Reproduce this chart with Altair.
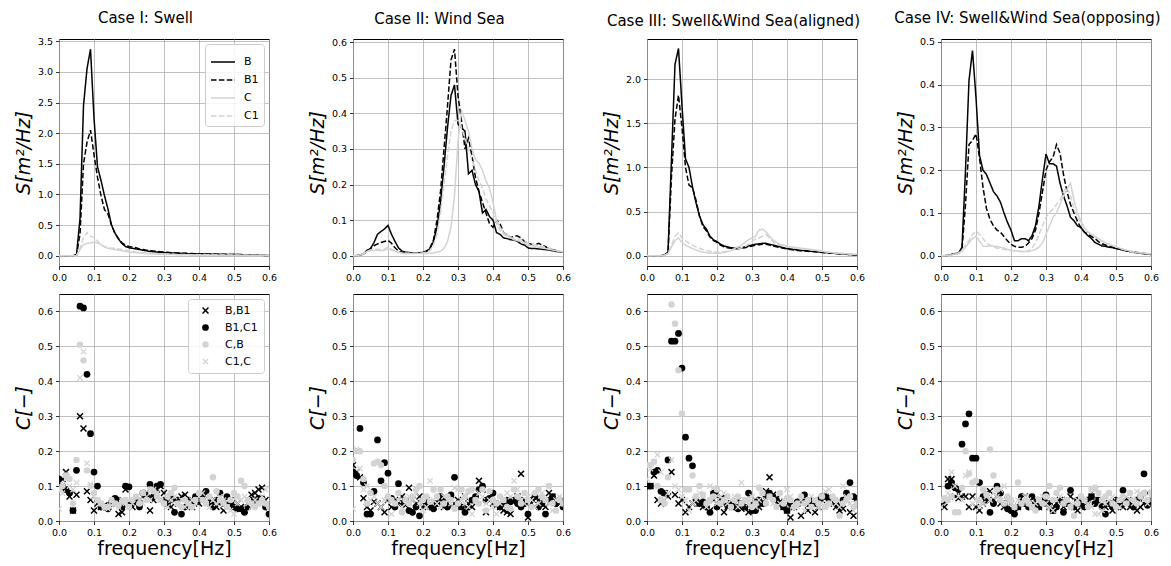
import altair as alt
import pandas as pd

# ---------------- data ----------------
FREQ = [0.00, 0.01, 0.02, 0.03, 0.04, 0.05, 0.06, 0.07, 0.08, 0.09,
        0.10, 0.11, 0.12, 0.13, 0.14, 0.15, 0.16, 0.17, 0.18, 0.19,
        0.20, 0.21, 0.22, 0.23, 0.24, 0.25, 0.26, 0.27, 0.28, 0.29,
        0.30, 0.31, 0.32, 0.33, 0.34, 0.35, 0.36, 0.37, 0.38, 0.39,
        0.40, 0.41, 0.42, 0.43, 0.44, 0.45, 0.46, 0.47, 0.48, 0.49,
        0.50, 0.51, 0.52, 0.53, 0.54, 0.55, 0.56, 0.57, 0.58, 0.59,
        0.60]

CASE_TITLES = ["Case I: Swell", "Case II: Wind Sea",
               "Case III: Swell&Wind Sea(aligned)", "Case IV: Swell&Wind Sea(opposing)"]
SPEC_SERIES = ["B", "B1", "C", "C1"]
COH_SERIES = ["B,B1", "B1,C1", "C,B", "C1,C"]
X_TICKS = [0.0, 0.1, 0.2, 0.3, 0.4, 0.5, 0.6]
SPEC_TICKS = [[0.0, 0.5, 1.0, 1.5, 2.0, 2.5, 3.0, 3.5],
              [0.0, 0.1, 0.2, 0.3, 0.4, 0.5, 0.6],
              [0.0, 0.5, 1.0, 1.5, 2.0],
              [0.0, 0.1, 0.2, 0.3, 0.4, 0.5]]
SPEC_DOMAINS = [[-0.168, 3.537], [-0.029, 0.609], [-0.117, 2.457], [-0.024, 0.507]]
COH_TICKS = [0.0, 0.1, 0.2, 0.3, 0.4, 0.5, 0.6]
COH_DOMAIN = [0.0, 0.65]

# Case I spectra
S1_B = [0, 0, 0, 0, 0, 0.02, 0.6, 2.45, 3.05, 3.37,
        2.25, 1.45, 1.23, 0.98, 0.76, 0.5, 0.37, 0.27, 0.2, 0.15,
        0.13, 0.12, 0.11, 0.1, 0.09, 0.08, 0.07, 0.065, 0.06, 0.055,
        0.05, 0.048, 0.045, 0.042, 0.04, 0.038, 0.035, 0.033, 0.03, 0.03,
        0.028, 0.027, 0.026, 0.025, 0.024, 0.023, 0.022, 0.021, 0.02, 0.02,
        0.02, 0.019, 0.018, 0.016, 0.014, 0.012, 0.01, 0.008, 0.006, 0.005,
        0.004]
S1_B1 = [0, 0, 0, 0, 0, 0.01, 0.35, 1.5, 1.85, 2.05,
         1.65, 1.28, 0.98, 0.75, 0.68, 0.5, 0.36, 0.28, 0.21, 0.17,
         0.15, 0.14, 0.13, 0.11, 0.1, 0.09, 0.08, 0.075, 0.07, 0.065,
         0.06, 0.055, 0.05, 0.048, 0.045, 0.042, 0.04, 0.038, 0.035, 0.033,
         0.03, 0.029, 0.028, 0.027, 0.026, 0.025, 0.024, 0.023, 0.022, 0.021,
         0.02, 0.019, 0.017, 0.015, 0.013, 0.011, 0.009, 0.008, 0.006, 0.005,
         0.004]
S1_C = [0, 0, 0, 0, 0, 0.0, 0.1, 0.18, 0.2, 0.21,
        0.22, 0.21, 0.18, 0.14, 0.12, 0.11, 0.1, 0.09, 0.08, 0.07,
        0.06, 0.055, 0.05, 0.045, 0.04, 0.035, 0.03, 0.028, 0.026, 0.024,
        0.022, 0.02, 0.019, 0.018, 0.017, 0.016, 0.015, 0.014, 0.013, 0.012,
        0.012, 0.011, 0.011, 0.01, 0.01, 0.01, 0.009, 0.009, 0.008, 0.008,
        0.008, 0.007, 0.007, 0.006, 0.006, 0.005, 0.005, 0.004, 0.004, 0.003,
        0.003]
S1_C1 = [0, 0, 0, 0, 0, 0.0, 0.12, 0.3, 0.38, 0.32,
         0.3, 0.24, 0.18, 0.15, 0.13, 0.12, 0.12, 0.11, 0.1, 0.09,
         0.08, 0.07, 0.06, 0.055, 0.05, 0.045, 0.04, 0.037, 0.034, 0.031,
         0.028, 0.026, 0.024, 0.022, 0.021, 0.02, 0.019, 0.018, 0.017, 0.016,
         0.015, 0.015, 0.014, 0.014, 0.013, 0.013, 0.012, 0.012, 0.011, 0.011,
         0.01, 0.01, 0.009, 0.009, 0.008, 0.008, 0.007, 0.007, 0.006, 0.006,
         0.005]

# Case II spectra
S2_B = [0, 0, 0.002, 0.005, 0.015, 0.02, 0.037, 0.06, 0.068, 0.075,
        0.085, 0.06, 0.04, 0.022, 0.013, 0.01, 0.009, 0.008, 0.008, 0.008,
        0.009, 0.012, 0.02, 0.04, 0.08, 0.15, 0.25, 0.36, 0.45, 0.48,
        0.37, 0.36, 0.35, 0.23, 0.24, 0.2, 0.18, 0.12, 0.13, 0.11,
        0.1, 0.065, 0.06, 0.05, 0.048, 0.045, 0.044, 0.04, 0.033, 0.03,
        0.022, 0.02, 0.02, 0.019, 0.018, 0.017, 0.016, 0.014, 0.012, 0.011,
        0.01]
S2_B1 = [0, 0, 0.002, 0.005, 0.012, 0.02, 0.028, 0.033, 0.037, 0.04,
         0.043, 0.035, 0.022, 0.013, 0.01, 0.009, 0.008, 0.008, 0.008, 0.008,
         0.01, 0.013, 0.022, 0.045, 0.1, 0.18, 0.3, 0.42, 0.55, 0.58,
         0.45, 0.38, 0.3, 0.33, 0.28, 0.22, 0.18, 0.15, 0.12, 0.09,
         0.08, 0.1, 0.09, 0.065, 0.06, 0.05, 0.055, 0.055, 0.05, 0.04,
         0.035, 0.032, 0.03, 0.035, 0.03, 0.025, 0.02, 0.017, 0.015, 0.012,
         0.01]
S2_C = [0, 0, 0.002, 0.005, 0.012, 0.014, 0.015, 0.015, 0.014, 0.015,
        0.02, 0.016, 0.012, 0.009, 0.007, 0.006, 0.006, 0.006, 0.006, 0.006,
        0.006, 0.006, 0.007, 0.008, 0.01, 0.013, 0.02, 0.04, 0.08, 0.17,
        0.32, 0.41, 0.38, 0.35, 0.3, 0.27, 0.26, 0.24, 0.21, 0.19,
        0.15, 0.1, 0.08, 0.065, 0.06, 0.05, 0.045, 0.042, 0.04, 0.035,
        0.03, 0.028, 0.026, 0.024, 0.022, 0.02, 0.018, 0.016, 0.014, 0.012,
        0.01]
S2_C1 = [0, 0, 0.002, 0.006, 0.013, 0.016, 0.018, 0.018, 0.017, 0.018,
         0.025, 0.018, 0.013, 0.01, 0.008, 0.007, 0.007, 0.007, 0.007, 0.007,
         0.008, 0.01, 0.015, 0.03, 0.06, 0.12, 0.2, 0.28, 0.35, 0.38,
         0.38, 0.36, 0.33, 0.3, 0.27, 0.24, 0.21, 0.19, 0.16, 0.14,
         0.12, 0.09, 0.07, 0.06, 0.055, 0.05, 0.05, 0.048, 0.045, 0.04,
         0.035, 0.032, 0.03, 0.028, 0.026, 0.024, 0.02, 0.018, 0.015, 0.013,
         0.011]

# Case III spectra
S3_B = [0, 0, 0, 0, 0, 0.01, 0.04, 1.1, 2.17, 2.35,
        1.7, 1.1, 1.0, 0.78, 0.6, 0.45, 0.35, 0.3, 0.22, 0.18,
        0.16, 0.13, 0.11, 0.1, 0.09, 0.085, 0.085, 0.09, 0.1, 0.11,
        0.12, 0.13, 0.135, 0.14, 0.14, 0.13, 0.12, 0.11, 0.1, 0.09,
        0.08, 0.075, 0.07, 0.065, 0.06, 0.058, 0.055, 0.05, 0.047, 0.043,
        0.04, 0.036, 0.032, 0.028, 0.025, 0.022, 0.019, 0.016, 0.013, 0.011,
        0.01]
S3_B1 = [0, 0, 0, 0, 0, 0.01, 0.03, 0.9, 1.55, 1.82,
         1.45, 1.0, 0.8, 0.77, 0.63, 0.45, 0.33, 0.28, 0.21, 0.17,
         0.15, 0.12, 0.1, 0.09, 0.085, 0.08, 0.08, 0.085, 0.09, 0.1,
         0.11, 0.12, 0.125, 0.13, 0.13, 0.12, 0.11, 0.1, 0.09, 0.085,
         0.075, 0.07, 0.065, 0.06, 0.056, 0.053, 0.05, 0.047, 0.044, 0.04,
         0.037, 0.033, 0.03, 0.027, 0.024, 0.021, 0.018, 0.015, 0.013, 0.011,
         0.01]
S3_C = [0, 0, 0, 0, 0, 0.005, 0.02, 0.1, 0.17, 0.2,
        0.15, 0.12, 0.1, 0.08, 0.065, 0.05, 0.04, 0.035, 0.03, 0.028,
        0.027, 0.03, 0.035, 0.045, 0.06, 0.08, 0.1, 0.12, 0.15, 0.18,
        0.2, 0.22, 0.29, 0.3, 0.27, 0.22, 0.18, 0.15, 0.13, 0.12,
        0.11, 0.1, 0.095, 0.09, 0.085, 0.08, 0.075, 0.07, 0.065, 0.06,
        0.05, 0.045, 0.04, 0.035, 0.03, 0.027, 0.024, 0.021, 0.018, 0.016,
        0.015]
S3_C1 = [0, 0, 0, 0, 0, 0.005, 0.025, 0.12, 0.22, 0.26,
         0.2, 0.17, 0.14, 0.12, 0.1, 0.085, 0.07, 0.06, 0.05, 0.045,
         0.04, 0.04, 0.045, 0.05, 0.06, 0.07, 0.08, 0.09, 0.1, 0.13,
         0.16, 0.19, 0.2, 0.22, 0.24, 0.2, 0.16, 0.13, 0.12, 0.11,
         0.1, 0.095, 0.09, 0.085, 0.08, 0.075, 0.07, 0.065, 0.06, 0.055,
         0.05, 0.045, 0.04, 0.035, 0.03, 0.027, 0.024, 0.021, 0.018, 0.016,
         0.015]

# Case IV spectra
S4_B = [0, 0, 0.001, 0.003, 0.005, 0.006, 0.02, 0.2, 0.41, 0.48,
        0.37, 0.235, 0.2, 0.19, 0.17, 0.15, 0.14, 0.125, 0.1, 0.078,
        0.06, 0.035, 0.035, 0.04, 0.04, 0.035, 0.047, 0.07, 0.117, 0.18,
        0.238, 0.215, 0.215, 0.21, 0.17, 0.14, 0.117, 0.09, 0.082, 0.07,
        0.066, 0.055, 0.047, 0.04, 0.031, 0.027, 0.023, 0.022, 0.02, 0.019,
        0.017, 0.015, 0.013, 0.011, 0.01, 0.008, 0.007, 0.006, 0.005, 0.004,
        0.003]
S4_B1 = [0, 0, 0.001, 0.003, 0.005, 0.006, 0.015, 0.12, 0.26, 0.27,
         0.285, 0.23, 0.16, 0.11, 0.085, 0.07, 0.06, 0.055, 0.045, 0.035,
         0.027, 0.022, 0.02, 0.02, 0.022, 0.03, 0.04, 0.06, 0.1, 0.15,
         0.2, 0.22, 0.23, 0.26, 0.24, 0.19, 0.15, 0.12, 0.1, 0.08,
         0.065, 0.055, 0.05, 0.045, 0.04, 0.033, 0.028, 0.025, 0.022, 0.02,
         0.018, 0.016, 0.014, 0.012, 0.01, 0.009, 0.008, 0.006, 0.005, 0.004,
         0.003]
S4_C = [0, 0, 0.001, 0.002, 0.004, 0.006, 0.01, 0.02, 0.03, 0.04,
        0.045, 0.035, 0.022, 0.022, 0.023, 0.022, 0.022, 0.02, 0.018, 0.015,
        0.013, 0.012, 0.011, 0.01, 0.01, 0.01, 0.012, 0.015, 0.02, 0.03,
        0.05, 0.07, 0.09, 0.1, 0.12, 0.14, 0.155, 0.17, 0.13, 0.1,
        0.08, 0.065, 0.055, 0.05, 0.045, 0.04, 0.035, 0.03, 0.027, 0.024,
        0.021, 0.018, 0.015, 0.013, 0.011, 0.009, 0.008, 0.007, 0.006, 0.005,
        0.004]
S4_C1 = [0, 0, 0.001, 0.002, 0.004, 0.006, 0.012, 0.025, 0.035, 0.05,
         0.058, 0.05, 0.04, 0.03, 0.025, 0.02, 0.018, 0.016, 0.015, 0.013,
         0.012, 0.011, 0.01, 0.01, 0.01, 0.012, 0.018, 0.03, 0.05, 0.07,
         0.09, 0.1, 0.11, 0.12, 0.13, 0.15, 0.16, 0.14, 0.11, 0.09,
         0.075, 0.065, 0.055, 0.05, 0.045, 0.04, 0.035, 0.03, 0.027, 0.024,
         0.021, 0.018, 0.015, 0.013, 0.011, 0.009, 0.008, 0.007, 0.006, 0.005,
         0.004]

# Case I coherence
K1_BB1 = [0.11, 0.12, 0.14, 0.07, 0.03, 0.075, 0.3, 0.265, 0.085, 0.06,
          0.03, 0.05, 0.04, 0.045, 0.04, 0.05, 0.06, 0.02, 0.025, 0.09,
          0.05, 0.04, 0.06, 0.05, 0.07, 0.08, 0.03, 0.06, 0.09, 0.1,
          0.08, 0.05, 0.04, 0.06, 0.05, 0.07, 0.075, 0.05, 0.04, 0.06,
          0.05, 0.07, 0.08, 0.06, 0.05, 0.04, 0.05, 0.03, 0.05, 0.06,
          0.04, 0.05, 0.04, 0.03, 0.05, 0.075, 0.08, 0.09, 0.095, 0.06,
          0.04]
K1_B1C1 = [0.12, 0.1, 0.09, 0.08, 0.03, 0.145, 0.615, 0.61, 0.42, 0.25,
           0.14, 0.1, 0.04, 0.04, 0.035, 0.05, 0.065, 0.06, 0.04, 0.1,
           0.098, 0.05, 0.06, 0.04, 0.08, 0.07, 0.105, 0.07, 0.1, 0.105,
           0.06, 0.05, 0.07, 0.025, 0.06, 0.02, 0.04, 0.06, 0.05, 0.07,
           0.06, 0.075, 0.085, 0.05, 0.04, 0.06, 0.08, 0.05, 0.07, 0.05,
           0.04, 0.035, 0.035, 0.025, 0.04, 0.06, 0.05, 0.065, 0.065, 0.04,
           0.02]
K1_CB = [0.09, 0.1, 0.13, 0.12, 0.05, 0.175, 0.505, 0.46, 0.145, 0.1,
         0.08, 0.06, 0.05, 0.04, 0.04, 0.06, 0.05, 0.045, 0.055, 0.06,
         0.04, 0.06, 0.07, 0.05, 0.08, 0.06, 0.09, 0.085, 0.07, 0.06,
         0.05, 0.07, 0.08, 0.095, 0.05, 0.04, 0.06, 0.05, 0.04, 0.06,
         0.08, 0.06, 0.05, 0.07, 0.125, 0.085, 0.06, 0.05, 0.04, 0.06,
         0.08, 0.07, 0.115, 0.1, 0.06, 0.05, 0.04, 0.05, 0.06, 0.05,
         0.04]
K1_C1C = [0.035, 0.08, 0.12, 0.1, 0.09, 0.11, 0.41, 0.485, 0.165, 0.105,
          0.07, 0.06, 0.05, 0.04, 0.035, 0.045, 0.05, 0.04, 0.06, 0.05,
          0.06, 0.05, 0.07, 0.06, 0.05, 0.07, 0.06, 0.09, 0.08, 0.06,
          0.05, 0.04, 0.06, 0.07, 0.05, 0.06, 0.04, 0.05, 0.06, 0.05,
          0.07, 0.08, 0.05, 0.04, 0.06, 0.05, 0.07, 0.06, 0.04, 0.03,
          0.02, 0.05, 0.06, 0.07, 0.05, 0.04, 0.06, 0.05, 0.07, 0.09,
          0.05]

# Case II coherence
K2_BB1 = [0.16, 0.14, 0.125, 0.065, 0.04, 0.03, 0.055, 0.05, 0.04, 0.025,
          0.06, 0.04, 0.06, 0.05, 0.07, 0.045, 0.095, 0.06, 0.05, 0.07,
          0.04, 0.06, 0.05, 0.04, 0.05, 0.06, 0.04, 0.05, 0.06, 0.05,
          0.06, 0.04, 0.07, 0.05, 0.04, 0.06, 0.115, 0.09, 0.025, 0.06,
          0.05, 0.045, 0.04, 0.03, 0.025, 0.02, 0.06, 0.07, 0.135, 0.06,
          0.01, 0.05, 0.07, 0.06, 0.05, 0.04, 0.08, 0.07, 0.06, 0.05,
          0.06]
K2_B1C1 = [0.14, 0.13, 0.265, 0.11, 0.02, 0.02, 0.085, 0.232, 0.115, 0.167,
           0.137, 0.065, 0.04, 0.107, 0.05, 0.06, 0.03, 0.025, 0.04, 0.015,
           0.06, 0.05, 0.04, 0.035, 0.05, 0.07, 0.06, 0.04, 0.075, 0.125,
           0.05, 0.04, 0.025, 0.04, 0.06, 0.07, 0.09, 0.1, 0.06, 0.065,
           0.08, 0.05, 0.04, 0.05, 0.06, 0.055, 0.06, 0.05, 0.04, 0.05,
           0.02, 0.06, 0.07, 0.04, 0.05, 0.02, 0.06, 0.07, 0.05, 0.06,
           0.04]
K2_CB = [0.175, 0.2, 0.2, 0.12, 0.05, 0.08, 0.165, 0.17, 0.16, 0.1,
         0.07, 0.06, 0.05, 0.08, 0.025, 0.06, 0.05, 0.07, 0.09, 0.1,
         0.06, 0.07, 0.055, 0.09, 0.07, 0.09, 0.05, 0.07, 0.06, 0.035,
         0.05, 0.09, 0.07, 0.085, 0.09, 0.06, 0.05, 0.09, 0.03, 0.085,
         0.06, 0.05, 0.07, 0.06, 0.04, 0.035, 0.09, 0.07, 0.05, 0.08,
         0.06, 0.04, 0.08, 0.09, 0.07, 0.06, 0.1, 0.05, 0.03, 0.06,
         0.05]
K2_C1C = [0.035, 0.205, 0.15, 0.09, 0.1, 0.06, 0.07, 0.05, 0.04, 0.06,
          0.07, 0.02, 0.05, 0.06, 0.04, 0.05, 0.07, 0.06, 0.08, 0.05,
          0.03, 0.04, 0.115, 0.06, 0.05, 0.04, 0.07, 0.06, 0.05, 0.095,
          0.09, 0.06, 0.05, 0.04, 0.02, 0.06, 0.08, 0.07, 0.05, 0.06,
          0.04, 0.02, 0.05, 0.06, 0.08, 0.07, 0.115, 0.09, 0.06, 0.05,
          0.07, 0.06, 0.04, 0.05, 0.08, 0.06, 0.05, 0.03, 0.06, 0.07,
          0.05]

# Case III coherence
K3_BB1 = [0.1, 0.1, 0.13, 0.06, 0.05, 0.08, 0.07, 0.14, 0.075, 0.05,
          0.06, 0.025, 0.04, 0.05, 0.06, 0.05, 0.04, 0.045, 0.03, 0.06,
          0.08, 0.06, 0.025, 0.04, 0.05, 0.04, 0.06, 0.035, 0.04, 0.025,
          0.05, 0.06, 0.04, 0.05, 0.085, 0.125, 0.075, 0.065, 0.055, 0.04,
          0.03, 0.01, 0.04, 0.05, 0.015, 0.06, 0.03, 0.05, 0.025, 0.04,
          0.06, 0.07, 0.05, 0.06, 0.04, 0.03, 0.035, 0.06, 0.025, 0.015,
          0.05]
K3_B1C1 = [0.1, 0.1, 0.14, 0.145, 0.085, 0.08, 0.175, 0.515, 0.515, 0.537,
           0.438, 0.24, 0.18, 0.158, 0.06, 0.05, 0.055, 0.04, 0.025, 0.08,
           0.04, 0.05, 0.065, 0.045, 0.05, 0.04, 0.035, 0.05, 0.04, 0.08,
           0.03, 0.03, 0.06, 0.05, 0.07, 0.08, 0.07, 0.06, 0.05, 0.04,
           0.03, 0.05, 0.04, 0.055, 0.06, 0.075, 0.05, 0.06, 0.05, 0.06,
           0.07, 0.07, 0.065, 0.06, 0.05, 0.04, 0.06, 0.08, 0.11, 0.07,
           0.065]
K3_CB = [0.16, 0.16, 0.17, 0.1, 0.06, 0.05, 0.125, 0.62, 0.565, 0.432,
         0.308, 0.09, 0.09, 0.13, 0.07, 0.1, 0.075, 0.05, 0.06, 0.07,
         0.09, 0.05, 0.06, 0.07, 0.04, 0.06, 0.07, 0.05, 0.06, 0.06,
         0.04, 0.05, 0.095, 0.08, 0.05, 0.07, 0.06, 0.04, 0.08, 0.05,
         0.065, 0.06, 0.04, 0.05, 0.07, 0.05, 0.06, 0.04, 0.06, 0.05,
         0.07, 0.04, 0.05, 0.07, 0.06, 0.015, 0.05, 0.06, 0.07, 0.04,
         0.05]
K3_C1C = [0.12, 0.15, 0.17, 0.19, 0.14, 0.06, 0.08, 0.175, 0.1, 0.09,
          0.07, 0.06, 0.03, 0.05, 0.06, 0.08, 0.07, 0.04, 0.1, 0.095,
          0.05, 0.07, 0.08, 0.05, 0.06, 0.07, 0.04, 0.11, 0.06, 0.05,
          0.07, 0.04, 0.06, 0.08, 0.06, 0.07, 0.05, 0.04, 0.05, 0.06,
          0.09, 0.07, 0.05, 0.04, 0.06, 0.03, 0.05, 0.07, 0.06, 0.04,
          0.05, 0.085, 0.09, 0.06, 0.05, 0.04, 0.1, 0.07, 0.05, 0.03,
          0.04]

# Case IV coherence
K4_BB1 = [0.05, 0.04, 0.12, 0.12, 0.07, 0.065, 0.07, 0.07, 0.04, 0.07,
          0.04, 0.03, 0.05, 0.08, 0.085, 0.06, 0.07, 0.05, 0.04, 0.06,
          0.05, 0.025, 0.04, 0.06, 0.07, 0.05, 0.045, 0.06, 0.04, 0.05,
          0.06, 0.04, 0.03, 0.05, 0.06, 0.04, 0.06, 0.07, 0.04, 0.03,
          0.05, 0.06, 0.05, 0.07, 0.09, 0.06, 0.05, 0.04, 0.05, 0.03,
          0.04, 0.05, 0.04, 0.05, 0.04, 0.06, 0.03, 0.04, 0.05, 0.08,
          0.05]
K4_B1C1 = [0.05, 0.06, 0.1, 0.11, 0.095, 0.09, 0.22, 0.278, 0.307, 0.18,
           0.18, 0.11, 0.07, 0.06, 0.025, 0.05, 0.1, 0.08, 0.05, 0.035,
           0.03, 0.02, 0.04, 0.07, 0.05, 0.04, 0.07, 0.05, 0.04, 0.06,
           0.075, 0.05, 0.03, 0.04, 0.06, 0.025, 0.05, 0.088, 0.04, 0.06,
           0.05, 0.04, 0.06, 0.07, 0.05, 0.06, 0.04, 0.02, 0.05, 0.04,
           0.06, 0.05, 0.088, 0.06, 0.05, 0.04, 0.06, 0.07, 0.135, 0.045,
           0.06]
K4_CB = [0.06, 0.065, 0.06, 0.07, 0.025, 0.025, 0.095, 0.2, 0.135, 0.11,
         0.115, 0.06, 0.09, 0.075, 0.205, 0.13, 0.09, 0.06, 0.05, 0.07,
         0.06, 0.04, 0.11, 0.05, 0.06, 0.05, 0.04, 0.03, 0.06, 0.05,
         0.07, 0.1, 0.06, 0.08, 0.095, 0.05, 0.06, 0.04, 0.015, 0.05,
         0.07, 0.06, 0.04, 0.09, 0.095, 0.08, 0.06, 0.07, 0.08, 0.05,
         0.04, 0.06, 0.07, 0.05, 0.08, 0.06, 0.05, 0.07, 0.08, 0.06,
         0.08]
K4_C1C = [0.04, 0.06, 0.08, 0.14, 0.1, 0.07, 0.06, 0.13, 0.14, 0.05,
          0.06, 0.04, 0.05, 0.07, 0.06, 0.08, 0.07, 0.09, 0.1, 0.06,
          0.05, 0.04, 0.06, 0.05, 0.07, 0.06, 0.04, 0.05, 0.06, 0.07,
          0.05, 0.04, 0.03, 0.06, 0.07, 0.05, 0.06, 0.04, 0.05, 0.06,
          0.07, 0.06, 0.05, 0.04, 0.02, 0.02, 0.03, 0.05, 0.06, 0.07,
          0.05, 0.04, 0.06, 0.07, 0.06, 0.05, 0.085, 0.08, 0.06, 0.05,
          0.07]

SPECTRA = [[S1_B, S1_B1, S1_C, S1_C1], [S2_B, S2_B1, S2_C, S2_C1],
           [S3_B, S3_B1, S3_C, S3_C1], [S4_B, S4_B1, S4_C, S4_C1]]
COHERENCE = [[K1_BB1, K1_B1C1, K1_CB, K1_C1C], [K2_BB1, K2_B1C1, K2_CB, K2_C1C],
             [K3_BB1, K3_B1C1, K3_CB, K3_C1C], [K4_BB1, K4_B1C1, K4_CB, K4_C1C]]

# ---------------- styling ----------------
BLACK = "#000000"
GRAY = "#d3d3d3"
SPEC_COLORS = [BLACK, BLACK, GRAY, GRAY]
SPEC_DASHES = [[1, 0], [5.5, 2.4], [1, 0], [5.5, 2.4]]
X_PATH = ("M-1,-0.7L-0.7,-1L0,-0.3L0.7,-1L1,-0.7L0.3,0L1,0.7L0.7,1"
          "L0,0.3L-0.7,1L-1,0.7L-0.3,0Z")
COH_COLORS = [BLACK, BLACK, GRAY, GRAY]
COH_SHAPES = [X_PATH, "circle", "circle", X_PATH]
COH_SIZES = [49, 38, 38, 49]

W, H_TOP, H_BOT = 210, 227, 227
FONT = "DejaVu Sans"

x_scale = alt.Scale(domain=[0, 0.6], nice=False, zero=False)


def spec_chart(i):
    rows = []
    for name, vals in zip(SPEC_SERIES, SPECTRA[i]):
        for f, v in zip(FREQ, vals):
            rows.append({"f": f, "S": v, "series": name})
    df = pd.DataFrame(rows)
    legend = None
    if i == 0:
        legend = alt.Legend(title=None, orient="top-right", offset=5,
                            fillColor="rgba(255,255,255,0.85)", strokeColor="#cccccc",
                            cornerRadius=3, padding=5, labelFont=FONT, labelFontSize=11,
                            labelColor="black", symbolType="stroke", symbolSize=576,
                            symbolStrokeWidth=1.5, labelOffset=8, rowPadding=-1.4)
    return alt.Chart(df, title=alt.Title(CASE_TITLES[i])).mark_line(
        strokeWidth=1.5, clip=True
    ).encode(
        x=alt.X("f:Q", scale=x_scale,
                axis=alt.Axis(values=X_TICKS, format=".1f", title=None)),
        y=alt.Y("S:Q", scale=alt.Scale(domain=SPEC_DOMAINS[i], nice=False, zero=False),
                axis=alt.Axis(values=SPEC_TICKS[i], format=".1f", title="S[m²/Hz]",
                              titleFontStyle="italic")),
        color=alt.Color("series:N", scale=alt.Scale(domain=SPEC_SERIES, range=SPEC_COLORS),
                        legend=legend),
        strokeDash=alt.StrokeDash("series:N",
                                  scale=alt.Scale(domain=SPEC_SERIES, range=SPEC_DASHES),
                                  legend=legend),
    ).properties(width=W, height=H_TOP)


def coh_chart(i):
    rows = []
    for name, vals in zip(COH_SERIES, COHERENCE[i]):
        for f, v in zip(FREQ, vals):
            rows.append({"f": f, "C": v, "series": name})
    df = pd.DataFrame(rows)
    legend = None
    if i == 0:
        legend = alt.Legend(title=None, orient="top-right", offset=5,
                            fillColor="rgba(255,255,255,0.85)", strokeColor="#cccccc",
                            cornerRadius=3, padding=6, labelFont=FONT, labelFontSize=11,
                            labelColor="black", symbolSize=45, symbolStrokeWidth=0,
                            symbolOffset=6, labelOffset=14, rowPadding=5)
    return alt.Chart(df).mark_point(
        filled=True, opacity=1, strokeWidth=0, clip=True
    ).encode(
        x=alt.X("f:Q", scale=x_scale,
                axis=alt.Axis(values=X_TICKS, format=".1f", title="frequency[Hz]")),
        y=alt.Y("C:Q", scale=alt.Scale(domain=COH_DOMAIN, nice=False, zero=False),
                axis=alt.Axis(values=COH_TICKS, format=".1f", title="C[−]",
                              titleFontStyle="italic")),
        color=alt.Color("series:N", scale=alt.Scale(domain=COH_SERIES, range=COH_COLORS),
                        legend=legend),
        shape=alt.Shape("series:N", scale=alt.Scale(domain=COH_SERIES, range=COH_SHAPES),
                        legend=legend),
        size=alt.Size("series:N", scale=alt.Scale(domain=COH_SERIES, range=COH_SIZES),
                      legend=None),
    ).properties(width=W, height=H_BOT)


top = alt.hconcat(*[spec_chart(i) for i in range(4)], spacing=84,
                  bounds="flush").resolve_scale(
    color="independent", strokeDash="independent")
bottom = alt.hconcat(*[coh_chart(i) for i in range(4)], spacing=84,
                     bounds="flush").resolve_scale(
    color="independent", shape="independent", size="independent")

chart = alt.vconcat(top, bottom, spacing=10).resolve_scale(
    color="independent", strokeDash="independent", shape="independent", size="independent"
).properties(
    padding={"left": 5, "top": 2, "right": 0, "bottom": 0},
    background="white",
).configure_view(
    stroke="black", strokeWidth=1
).configure_axis(
    labelFont=FONT, labelFontSize=9.5, labelColor="black", labelPadding=3,
    labelFlush=False, labelOverlap=False,
    titleFont=FONT, titleFontSize=19, titleColor="black", titleFontWeight="normal",
    tickColor="black", tickSize=3.5, tickWidth=0.8, domain=False,
    gridColor="#b0b0b0", gridWidth=0.8,
).configure_axisX(
    titlePadding=2
).configure_axisY(
    titlePadding=4
).configure_title(
    font=FONT, fontSize=15, fontWeight="normal", color="black",
    offset=10.5, frame="bounds", anchor="middle"
)

chart.save("out.html", embed_options={"renderer": "svg", "actions": False})
